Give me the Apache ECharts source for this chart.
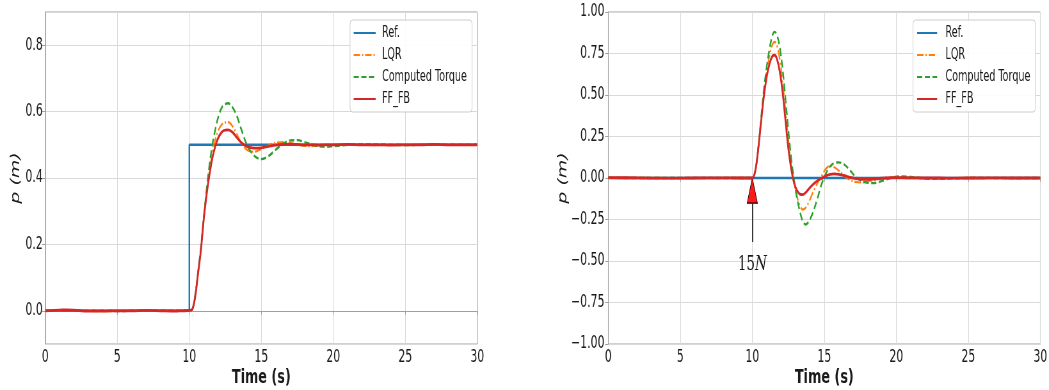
<!DOCTYPE html>
<html>
<head>
<meta charset="utf-8">
<script src="https://cdn.jsdelivr.net/npm/echarts@6/dist/echarts.min.js"></script>
<style>
  html, body { margin: 0; padding: 0; background: #ffffff; overflow: hidden; }
  /* The figure is laid out on a wider canvas and squeezed horizontally */
  #chart { width: 1639px; height: 390px; transform: scaleX(0.64); transform-origin: 0 0; }
</style>
</head>
<body>
<div id="chart"></div>
<script>
// Series names shown in both legends
const seriesNames = ['Ref.', 'LQR', 'Computed Torque', 'FF_FB'];

// ---- Left panel: step of 0.5 m at t = 10 s ----
const refTimeL = [0, 10, 10, 30];
const refValL = [0, 0, 0.5, 0.5];

const timeL = [0, 1, 1.5, 2, 3, 4, 5, 6, 7, 8, 9, 9.5,
  10, 10.2, 10.4, 10.6, 10.8, 11.0, 11.2, 11.4, 11.6, 11.8, 12.0, 12.2, 12.4,
  12.7, 13.0, 13.3, 13.6, 14.0,
  14.5, 15.0, 15.5, 16.0, 16.5, 17.0, 17.5, 18.0, 18.5, 19.0, 19.5, 20,
  21, 22, 23, 24, 25, 26, 27, 28, 29, 30];

const lqrL = [0, 0.001, 0.002, 0.002, 0, -0.001, 0, 0, 0, 0.001, 0, 0,
  0.001, 0.004, 0.042, 0.112, 0.185, 0.275, 0.355, 0.42, 0.475, 0.515, 0.542, 0.558, 0.566,
  0.568, 0.556, 0.532, 0.507, 0.485,
  0.479, 0.487, 0.498, 0.506, 0.508, 0.505, 0.501, 0.497, 0.496, 0.498, 0.5, 0.501,
  0.501, 0.5, 0.499, 0.5, 0.5, 0.501, 0.5, 0.5, 0.5, 0.5];

const ctL = [0, 0.001, 0.002, 0.001, 0, 0, -0.001, 0, 0, 0, 0.001, 0,
  0.001, 0.004, 0.045, 0.115, 0.19, 0.28, 0.365, 0.44, 0.5, 0.545, 0.582, 0.607, 0.62,
  0.625, 0.613, 0.587, 0.548, 0.5,
  0.467, 0.457, 0.466, 0.485, 0.503, 0.513, 0.514, 0.508, 0.501, 0.496, 0.494, 0.496,
  0.5, 0.502, 0.501, 0.5, 0.499, 0.5, 0.5, 0.5, 0.5, 0.5];

const ffbL = [0, 0.002, 0.003, 0.002, -0.001, -0.001, 0, 0, 0.001, 0, -0.001, 0,
  0.001, 0.004, 0.04, 0.11, 0.18, 0.275, 0.35, 0.41, 0.46, 0.495, 0.52, 0.535, 0.543,
  0.545, 0.538, 0.522, 0.507, 0.495,
  0.49, 0.491, 0.495, 0.499, 0.501, 0.502, 0.501, 0.5, 0.5, 0.499, 0.5, 0.5,
  0.501, 0.5, 0.5, 0.499, 0.5, 0.5, 0.501, 0.5, 0.5, 0.5];

// ---- Right panel: 15 N disturbance at t = 10 s ----
const refTimeR = [0, 30];
const refValR = [0, 0];

const timeR = [0, 2, 4, 6, 8, 9, 9.8,
  10.0, 10.2, 10.4, 10.6, 10.8, 11.0, 11.2, 11.4,
  11.55,
  11.7, 11.9, 12.1, 12.3, 12.5, 12.7, 12.9, 13.1, 13.3, 13.5, 13.7, 13.9,
  14.2, 14.5, 14.8, 15.1, 15.4, 15.7, 16.0,
  16.4, 16.8, 17.2, 17.6, 18.0, 18.4, 18.8,
  19.3, 19.8, 20.4,
  21, 22, 23, 24, 25, 26, 27, 28, 29, 30];

const lqrR = [0.001, 0.001, 0, -0.001, 0, 0.001, 0,
  0, 0.04, 0.168, 0.34, 0.51, 0.64, 0.74, 0.805,
  0.82,
  0.8, 0.72, 0.58, 0.41, 0.23, 0.08, -0.03, -0.11, -0.165, -0.19, -0.18, -0.15,
  -0.09, -0.035, 0.01, 0.055, 0.073, 0.065, 0.045,
  0.012, -0.012, -0.024, -0.027, -0.022, -0.013, -0.005,
  0.001, 0.004, 0.004,
  0.002, -0.001, -0.002, 0, 0.001, 0, 0, -0.001, 0, 0];

const ctR = [0.001, 0, 0, 0.001, 0, 0, 0,
  0, 0.04, 0.17, 0.35, 0.53, 0.67, 0.78, 0.86,
  0.88,
  0.865, 0.79, 0.66, 0.48, 0.29, 0.12, -0.01, -0.12, -0.2, -0.26, -0.28, -0.265,
  -0.21, -0.13, -0.04, 0.025, 0.07, 0.09, 0.094,
  0.08, 0.045, 0.005, -0.018, -0.029, -0.031, -0.024,
  -0.008, 0.004, 0.01,
  0.006, -0.003, -0.005, -0.002, 0, 0.001, 0, 0, 0, 0];

const ffbR = [0.002, 0.001, -0.001, 0, 0.001, 0, 0,
  0, 0.04, 0.165, 0.33, 0.49, 0.61, 0.69, 0.735,
  0.74,
  0.72, 0.645, 0.52, 0.35, 0.18, 0.055, -0.03, -0.075, -0.097, -0.1, -0.088, -0.068,
  -0.04, -0.018, -0.002, 0.013, 0.022, 0.025, 0.022,
  0.014, 0.004, -0.004, -0.008, -0.008, -0.006, -0.003,
  0, 0.002, 0.002,
  0.001, 0, 0, -0.001, 0, 0, 0.001, 0, 0, 0];

// Disturbance marker: arrow from below up to the response at t = 10 s
const forceTime = 10;
const forceArrowTail = -0.385;
const forceArrowHeadBase = -0.155;
const forceLabelValue = -0.52;

const xTicks = { min: 0, max: 30, interval: 5 };

const colors = { ref: '#1f77b4', lqr: '#ff7f0e', ct: '#2ca02c', ffb: '#d62728' };
const font = '"DejaVu Sans", sans-serif';
const textColor = '#1a1a1a';
const axisGray = '#a0a0a0';
const gridGray = '#d9d9d9';

// horizontal layout positions are given in screen pixels and widened for the squeezed canvas
const SX = 0.64;
const wx = px => px / SX;

function pairs(t, v) { return t.map((x, i) => [x, v[i]]); }
function minus(s) { return String(s).replace('-', '\u2212'); }

function xAxis(gridIndex) {
  return {
    type: 'value', gridIndex, min: xTicks.min, max: xTicks.max, interval: xTicks.interval,
    name: 'Time (s)', nameLocation: 'middle', nameGap: 24, nameMoveOverlap: false,
    nameTextStyle: { fontFamily: font, fontWeight: 'bold', fontSize: 20, color: textColor },
    axisLine: { show: true, lineStyle: { color: axisGray, width: 1 } },
    axisTick: { show: true, length: 4, lineStyle: { color: axisGray } },
    axisLabel: { fontFamily: font, fontSize: 17, color: textColor, margin: 5, hideOverlap: false },
    splitLine: { show: true, lineStyle: { color: gridGray, width: 1 } }
  };
}

function yAxisBase(gridIndex, nameGap) {
  return {
    type: 'value', gridIndex,
    name: 'p (m)', nameLocation: 'middle', nameGap, nameMoveOverlap: false,
    nameTextStyle: { fontFamily: font, fontStyle: 'italic', fontSize: 19, color: textColor },
    axisLine: { show: true, lineStyle: { color: axisGray, width: 1 } },
    axisTick: { show: true, length: 5, lineStyle: { color: axisGray } },
    splitLine: { show: true, lineStyle: { color: gridGray, width: 1 } }
  };
}

function lineSeries(name, data, xi, color, width, type, z) {
  return {
    name, type: 'line', xAxisIndex: xi, yAxisIndex: xi, data,
    showSymbol: false, symbol: 'none', smooth: 0.35, z,
    lineStyle: { color, width, type },
    itemStyle: { color }
  };
}

function legend(left, iconW, padLeft, textPad) {
  return {
    data: seriesNames, orient: 'vertical', left, top: 20,
    itemWidth: iconW, itemHeight: 10, itemGap: 5,
    padding: [4.5, 8, 4.5, padLeft],
    backgroundColor: 'rgba(255,255,255,0.9)',
    borderColor: '#cccccc', borderWidth: 1, borderRadius: 4,
    itemStyle: { opacity: 0 },
    textStyle: { fontFamily: font, fontSize: 15, color: textColor, lineHeight: 17, padding: [0, 0, 0, textPad] }
  };
}

const chart = echarts.init(document.getElementById('chart'), null, { renderer: 'canvas', width: 1639, height: 390 });

const gridBox = left => ({
  left, top: 12, width: wx(432), height: 332, show: true,
  borderColor: axisGray, borderWidth: 1, backgroundColor: 'transparent',
  outerBoundsMode: 'none', containLabel: false
});

const option = {
  animation: false,
  backgroundColor: '#ffffff',
  grid: [gridBox(wx(45.3)), gridBox(wx(608.3))],
  legend: [legend(wx(350), wx(22), wx(3), 5), legend(wx(913), wx(20), wx(3.5), 8)],
  xAxis: [xAxis(0), xAxis(1)],
  yAxis: [
    Object.assign(yAxisBase(0, 36), {
      min: -0.1, max: 0.9, splitNumber: 5,
      axisLabel: { fontFamily: font, fontSize: 17, color: textColor, margin: 4, hideOverlap: false,
        showMinLabel: false, showMaxLabel: false,
        formatter: v => minus(v.toFixed(1)) }
    }),
    Object.assign(yAxisBase(1, 61), {
      min: -1, max: 1, interval: 0.25,
      axisLabel: { fontFamily: font, fontSize: 17, color: textColor, margin: 6, hideOverlap: false,
        formatter: v => minus(v.toFixed(2)) }
    })
  ],
  series: [
    Object.assign(lineSeries('Ref.', pairs(refTimeL, refValL), 0, colors.ref, 2.4, 'solid', 2), { smooth: false }),
    lineSeries('LQR', pairs(timeL, lqrL), 0, colors.lqr, 2.2, [10, 3, 2, 3], 3),
    lineSeries('Computed Torque', pairs(timeL, ctL), 0, colors.ct, 2.4, [8, 4], 4),
    lineSeries('FF_FB', pairs(timeL, ffbL), 0, colors.ffb, 2.8, 'solid', 5),

    Object.assign(lineSeries('Ref.', pairs(refTimeR, refValR), 1, colors.ref, 2.4, 'solid', 2), {
      smooth: false,
      markLine: {
        silent: true, symbol: ['none', 'none'], animation: false,
        lineStyle: { color: '#000', width: 1.5, type: 'solid' },
        label: { show: false },
        data: [[{ coord: [forceTime, forceArrowTail] }, { coord: [forceTime, forceArrowHeadBase] }]]
      },
      markPoint: {
        silent: true, animation: false,
        data: [
          { coord: [forceTime, 0], symbol: 'triangle', symbolSize: [16, 25], symbolOffset: [0, 12.5],
            itemStyle: { color: '#ff1a1a', borderColor: '#000', borderWidth: 1 }, label: { show: false } },
          { coord: [forceTime, forceLabelValue], symbol: 'circle', symbolSize: 0,
            label: { show: true, position: 'inside', formatter: '{a|15}{b|N}',
              rich: {
                a: { fontFamily: '"DejaVu Serif", serif', fontSize: 21, color: textColor },
                b: { fontFamily: '"DejaVu Serif", serif', fontStyle: 'italic', fontSize: 21, color: textColor }
              } } }
        ]
      }
    }),
    lineSeries('LQR', pairs(timeR, lqrR), 1, colors.lqr, 2.2, [10, 3, 2, 3], 3),
    lineSeries('Computed Torque', pairs(timeR, ctR), 1, colors.ct, 2.4, [8, 4], 4),
    lineSeries('FF_FB', pairs(timeR, ffbR), 1, colors.ffb, 2.8, 'solid', 5)
  ]
};

chart.setOption(option);
</script>
</body>
</html>
